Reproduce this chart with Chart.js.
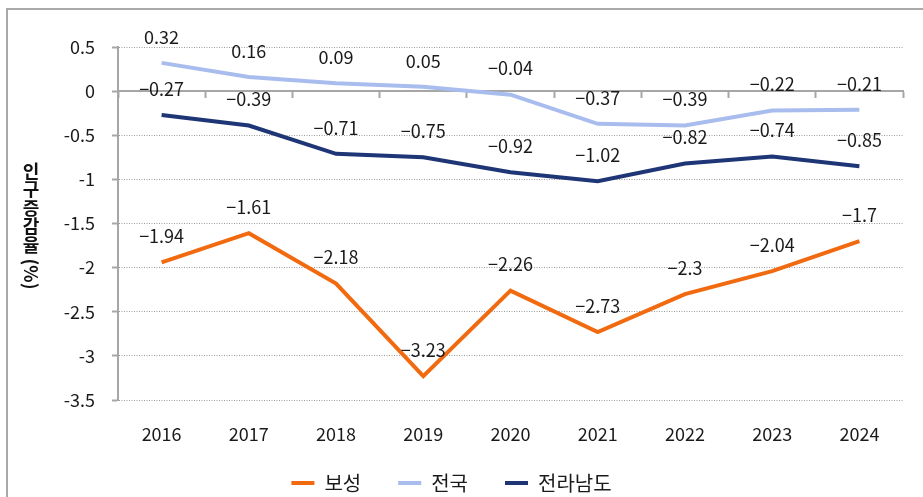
<!DOCTYPE html>
<html>
<head>
<meta charset="utf-8">
<script src="https://cdn.jsdelivr.net/npm/chart.js@4/dist/chart.umd.min.js"></script>
<style>
html, body { margin:0; padding:0; background:#fff; overflow:hidden; width:923px; height:497px; }
#frame { position:absolute; left:6px; top:8px; width:2000px; height:2000px; border:2px solid #a9a9a9; }
#wrap { position:absolute; left:0; top:0; width:923px; height:503px; }
</style>
</head>
<body>
<div id="frame"></div>
<div id="wrap"><canvas id="chart"></canvas></div>
<script>
const years = ['2016','2017','2018','2019','2020','2021','2022','2023','2024'];
const boseong = [-1.94, -1.61, -2.18, -3.23, -2.26, -2.73, -2.3, -2.04, -1.7];
const national = [0.32, 0.16, 0.09, 0.05, -0.04, -0.37, -0.39, -0.22, -0.21];
const jeonnam = [-0.27, -0.39, -0.71, -0.75, -0.92, -1.02, -0.82, -0.74, -0.85];
const yTicks = [0.5, 0, -0.5, -1, -1.5, -2, -2.5, -3, -3.5];
const yTitle = ['인','구','증','감','율'];

const FONT = '"Noto Sans CJK KR", "Noto Sans", sans-serif';
const GRAY = '#a6a6a6';
const yMin = yTicks[yTicks.length - 1];

/* value labels above each point */
const valueLabels = {
  id: 'valueLabels',
  afterDatasetsDraw(chart) {
    const ctx = chart.ctx;
    ctx.save();
    ctx.font = '18px ' + FONT;
    ctx.fillStyle = '#1a1a1a';
    ctx.textAlign = 'center';
    ctx.textBaseline = 'middle';
    chart.data.datasets.forEach((ds, i) => {
      chart.getDatasetMeta(i).data.forEach((pt, j) => {
        ctx.fillText(String(ds.data[j]).replace('-', '\u2212'), pt.x, pt.y - 26);
      });
    });
    ctx.restore();
  }
};

/* vertical axis title, characters stacked */
const verticalTitle = {
  id: 'verticalTitle',
  afterDraw(chart) {
    const ctx = chart.ctx;
    ctx.save();
    ctx.font = 'bold 18px ' + FONT;
    ctx.fillStyle = '#111';
    ctx.textAlign = 'center';
    ctx.textBaseline = 'middle';
    let y = 171;
    yTitle.forEach(ch => { ctx.fillText(ch, 31, y); y += 18.5; });
    ctx.translate(31, 274);
    ctx.rotate(Math.PI / 2);
    ctx.fillText('(%)', 0, 0);
    ctx.restore();
  }
};

new Chart(document.getElementById('chart'), {
  type: 'line',
  data: {
    labels: years,
    datasets: [
      { label: '보성', data: boseong, borderColor: '#f26a10', backgroundColor: '#f26a10', borderWidth: 4, pointRadius: 0, tension: 0 },
      { label: '전국', data: national, borderColor: '#a8bdee', backgroundColor: '#a8bdee', borderWidth: 4, pointRadius: 0, tension: 0 },
      { label: '전라남도', data: jeonnam, borderColor: '#1f3676', backgroundColor: '#1f3676', borderWidth: 4, pointRadius: 0, tension: 0 }
    ]
  },
  options: {
    responsive: true,
    maintainAspectRatio: false,
    animation: false,
    layout: { padding: { left: 0, right: 20, top: 47, bottom: 0 } },
    plugins: {
      tooltip: { enabled: false },
      legend: {
        position: 'bottom',
        labels: {
          font: { family: FONT, size: 20 },
          color: '#1a1a1a',
          boxWidth: 23,
          boxHeight: 4,
          padding: 37,
          generateLabels(chart) {
            return Chart.defaults.plugins.legend.labels.generateLabels(chart)
              .map(l => Object.assign(l, { lineWidth: 0, fillStyle: l.strokeStyle }));
          }
        }
      }
    },
    scales: {
      x: {
        offset: true,
        grid: { display: false },
        border: { display: false },
        ticks: { display: false },
        afterFit(s) { s.height = 36; }
      },
      xLabels: {
        type: 'category',
        position: { y: yMin },
        offset: true,
        grid: { display: false },
        border: { display: false },
        ticks: { font: { family: FONT, size: 18 }, color: '#1a1a1a', padding: 15, maxRotation: 0, autoSkip: false }
      },
      x2: {
        type: 'category',
        position: { y: 0 },
        offset: true,
        grid: { display: true, drawOnChartArea: false, offset: true, drawTicks: true, tickLength: 6, color: GRAY, tickWidth: 2 },
        border: { display: true, color: GRAY, width: 2 },
        ticks: { display: false }
      },
      y: {
        min: yMin,
        max: yTicks[0],
        afterBuildTicks(s) { s.ticks = yTicks.map(v => ({ value: v })); },
        grid: { color: '#9a9a9a', lineWidth: 1, drawTicks: true, tickLength: 6, tickColor: GRAY, tickWidth: 2 },
        border: { display: true, color: GRAY, width: 2, dash: [1, 1.5] },
        ticks: { font: { family: FONT, size: 18 }, color: '#1a1a1a', padding: 17, callback: v => String(v) },
        afterFit(s) { s.width = 118; }
      }
    }
  },
  plugins: [valueLabels, verticalTitle]
});
</script>
</body>
</html>
